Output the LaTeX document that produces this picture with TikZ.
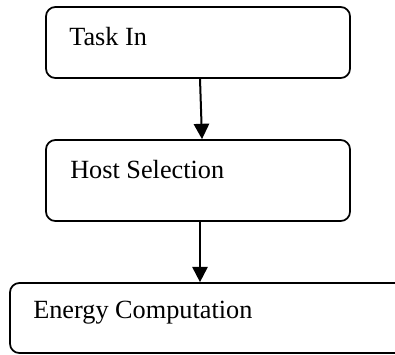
\documentclass[tikz,border=0pt]{standalone}
\usepackage{fontspec}
\setmainfont{Liberation Serif}
\usetikzlibrary{arrows.meta}
\begin{document}
\begin{tikzpicture}[x=0.75pt,y=-0.75pt,
  box/.style={draw, line width=1.3pt, rounded corners=7pt, inner sep=0pt},
  lbl/.style={anchor=west, inner sep=0pt, font=\fontsize{19.7}{23}\selectfont},
  arr/.style={line width=1.5pt, -{Triangle[width=11.5pt,length=11.5pt]}}]
\useasboundingbox (0,0) rectangle (395,354);
\clip (0,0) rectangle (395,354);
\node[box, minimum width=304*0.75pt, minimum height=71*0.75pt] (b1) at (198,42.5) {};
\node[box, minimum width=304*0.75pt, minimum height=81*0.75pt] (b2) at (198,180.5) {};
\node[box, minimum width=396*0.75pt, minimum height=70*0.75pt] (b3) at (208,318) {};
\node[lbl] (t1) at (69,37) {Task In};
\node[lbl] (t2) at (70,170) {Host Selection};
\node[lbl] (t3) at (33,313) {Energy Computation};
\draw[arr] ([xshift=1.5pt]b1.south) -- ([xshift=3pt]b2.north);
\draw[arr] ([xshift=1.5pt]b2.south) -- ([xshift=1.5pt]b2.south |- b3.north);
\end{tikzpicture}
\end{document}
